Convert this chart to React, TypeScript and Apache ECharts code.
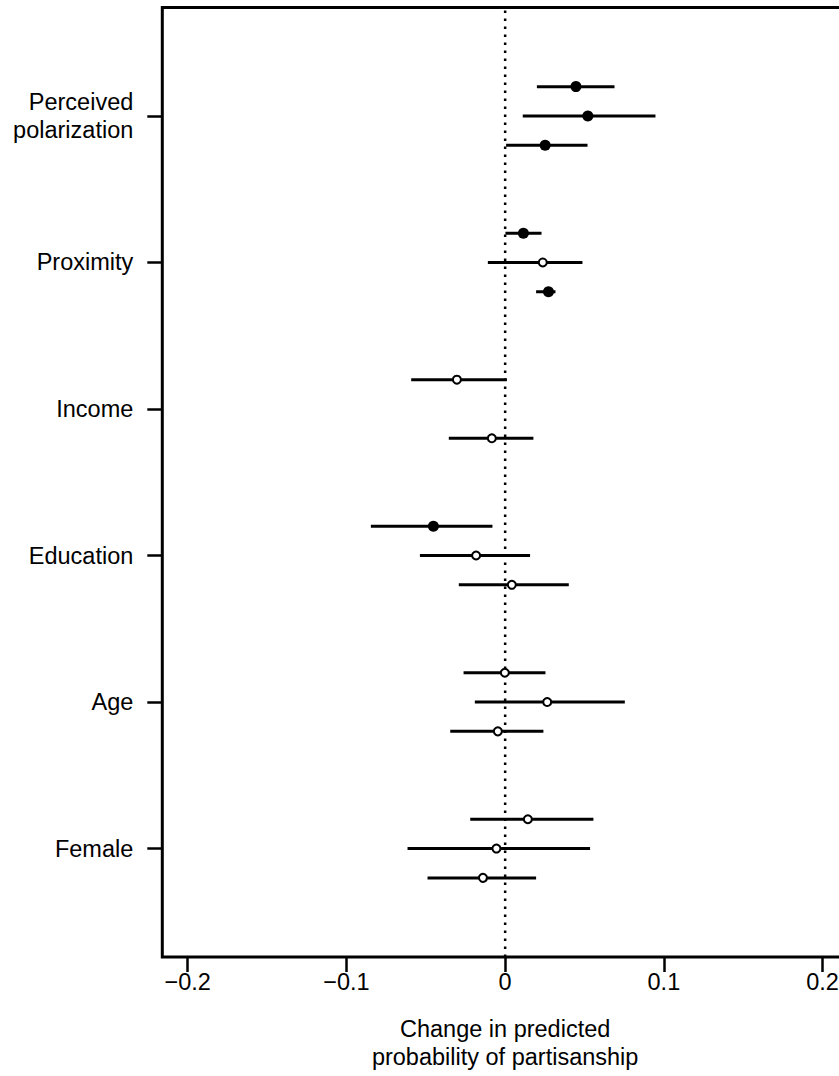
import React, { useEffect, useRef } from "react";
import * as echarts from "echarts";

const categories = ["Perceived\npolarization", "Proximity", "Income", "Education", "Age", "Female"];
const positions = [6, 5, 4, 3, 2, 1];
const rowOffsets = [0.2, 0, -0.2];

// top row of each group
const estTop = [0.0446, 0.0115, -0.0304, -0.0452, -0.0002, 0.0143];
const loTop = [0.02, 0.0002, -0.0592, -0.0846, -0.0262, -0.022];
const hiTop = [0.0689, 0.0229, 0.0011, -0.008, 0.0254, 0.0556];
const filledTop = [true, true, false, true, false, false];
// middle row
const estMid = [0.0521, 0.0237, null, -0.0183, 0.0265, -0.0055];
const loMid = [0.0111, -0.0109, null, -0.0537, -0.0191, -0.0615];
const hiMid = [0.0947, 0.0487, null, 0.0157, 0.0754, 0.0535];
const filledMid = [true, false, false, false, false, false];
// bottom row
const estBot = [0.0252, 0.0273, -0.0084, 0.0042, -0.0046, -0.014];
const loBot = [0.0006, 0.0195, -0.0355, -0.0292, -0.0346, -0.0489];
const hiBot = [0.0519, 0.0317, 0.0178, 0.0401, 0.0241, 0.0195];
const filledBot = [true, true, false, false, false, false];

const xTicks = [-0.2, -0.1, 0, 0.1, 0.2];
const yTicks = [1, 2, 3, 4, 5, 6];

const FONT = "'Liberation Sans', Arial, sans-serif";
const FS = 23.5;

export default function App() {
  const ref = useRef<HTMLDivElement>(null);
  useEffect(() => {
    if (!ref.current) return;
    const chart = echarts.init(ref.current, null, { renderer: "svg" });
    const rows = [
      { est: estTop, lo: loTop, hi: hiTop, filled: filledTop },
      { est: estMid, lo: loMid, hi: hiMid, filled: filledMid },
      { est: estBot, lo: loBot, hi: hiBot, filled: filledBot },
    ];
    const bars: any[] = [];
    const filledPts: any[] = [];
    const openPts: any[] = [];
    rows.forEach((r, ri) => {
      categories.forEach((_, ci) => {
        const e = r.est[ci];
        if (e === null || e === undefined) return;
        const y = positions[ci] + rowOffsets[ri];
        bars.push([r.lo[ci], r.hi[ci], y]);
        if (r.filled[ci]) filledPts.push([e, y]);
        else openPts.push([e, y]);
      });
    });
    const yLabelMap: Record<number, string> = {};
    positions.forEach((p, i) => (yLabelMap[p] = categories[i]));

    chart.setOption({
      animation: false,
      grid: {
        left: 162.3,
        top: 7.5,
        bottom: 118,
        right: 12,
        show: true,
        borderColor: "#000",
        borderWidth: 3,
        backgroundColor: "transparent",
      },
      xAxis: {
        type: "value",
        min: -0.216,
        max: 0.216,
        axisLine: { show: false, onZero: false },
        splitLine: { show: false },
        axisTick: {
          show: true,
          customValues: xTicks,
          length: 15,
          lineStyle: { color: "#000", width: 2.5 },
        },
        axisLabel: {
          customValues: xTicks,
          formatter: (v: number) => (v < 0 ? "\u2212" + String(Math.abs(v)) : String(v)),
          fontSize: FS,
          color: "#000",
          fontFamily: FONT,
          margin: 13,
        },
        name: "Change in predicted\nprobability of partisanship",
        nameLocation: "middle",
        nameGap: 58,
        nameTextStyle: { fontSize: FS, lineHeight: 28, color: "#000", fontFamily: FONT },
      },
      yAxis: {
        type: "value",
        min: 0.26,
        max: 6.74,
        axisLine: { show: false, onZero: false },
        splitLine: { show: false },
        axisTick: {
          show: true,
          customValues: yTicks,
          length: 15,
          lineStyle: { color: "#000", width: 2.5 },
        },
        axisLabel: {
          customValues: yTicks,
          formatter: (v: number) => yLabelMap[Math.round(v)] || "",
          fontSize: FS,
          lineHeight: 28,
          color: "#000",
          fontFamily: FONT,
          margin: 29,
          align: "right",
        },
      },
      series: [
        {
          type: "line",
          data: [
            [0, 0.26],
            [0, 6.74],
          ],
          symbol: "none",
          lineStyle: { color: "#000", width: 2.5, type: [2.5, 5.5] },
          z: 1,
        },
        {
          type: "custom",
          data: bars,
          z: 2,
          renderItem: (params: any, api: any) => {
            const p1 = api.coord([api.value(0), api.value(2)]);
            const p2 = api.coord([api.value(1), api.value(2)]);
            return {
              type: "line",
              shape: { x1: p1[0], y1: p1[1], x2: p2[0], y2: p2[1] },
              style: { stroke: "#000", lineWidth: 3 },
            };
          },
        },
        {
          type: "scatter",
          data: filledPts,
          symbol: "circle",
          symbolSize: 11,
          itemStyle: { color: "#000", opacity: 1 },
          z: 3,
        },
        {
          type: "scatter",
          data: openPts,
          symbol: "circle",
          symbolSize: 8,
          itemStyle: { color: "#fff", borderColor: "#000", borderWidth: 2, opacity: 1 },
          z: 3,
        },
      ],
    });
    return () => chart.dispose();
  }, []);
  return (
    <div
      style={{
        position: "fixed",
        left: 0,
        top: 0,
        width: 839,
        height: 1076,
        overflow: "hidden",
        background: "#fff",
      }}
    >
      <div ref={ref} style={{ width: 860, height: 1076 }} />
    </div>
  );
}
